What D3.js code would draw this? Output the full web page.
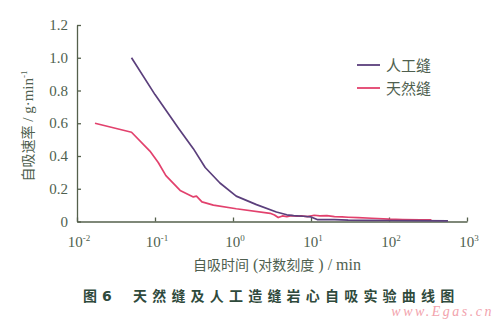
<!DOCTYPE html>
<html>
<head>
<meta charset="utf-8">
<script src="https://cdn.jsdelivr.net/npm/d3@7/dist/d3.min.js"></script>
<style>
  html, body { margin: 0; padding: 0; background: #fff; }
  svg { display: block; }
</style>
</head>
<body>
<svg id="chart" width="500" height="324"></svg>
<script>
// Imbibition rate (g/min) vs. imbibition time (min), log time axis
const artificialTime = [0.05, 0.10, 0.20, 0.31, 0.44, 0.68, 1.1, 2.0, 3.6, 4.9, 6.0, 8.0, 10, 12, 20, 30, 60, 100, 200, 570];
const artificialRate = [1.00, 0.775, 0.57, 0.445, 0.33, 0.235, 0.155, 0.103, 0.058, 0.041, 0.036, 0.032, 0.028, 0.012, 0.011, 0.008, 0.007, 0.006, 0.005, 0.004];

const naturalTime = [0.017, 0.05, 0.086, 0.11, 0.138, 0.21, 0.31, 0.34, 0.40, 0.56, 1.1, 3.0, 3.4, 3.8, 4.3, 4.9, 5.6, 6.5, 7.5, 9.0, 11, 13, 16, 20, 25, 30, 40, 60, 100, 150, 250, 350];
const naturalRate = [0.60, 0.545, 0.43, 0.36, 0.28, 0.19, 0.15, 0.155, 0.12, 0.10, 0.078, 0.050, 0.040, 0.024, 0.034, 0.030, 0.036, 0.032, 0.034, 0.030, 0.038, 0.034, 0.036, 0.030, 0.028, 0.026, 0.024, 0.020, 0.014, 0.012, 0.010, 0.010];

const seriesNames = ["人工缝", "天然缝"];
const seriesColors = ["#5b3f7c", "#e2416d"];

const xTickValues = [0.01, 0.1, 1, 10, 100, 1000];
const xTickExp = ["-2", "-1", "0", "1", "2", "3"];
const yTickValues = [0, 0.2, 0.4, 0.6, 0.8, 1.0, 1.2];

const svg = d3.select("#chart");
const axisColor = "#55604c";
const textColor = "#4f5f4f";
const serif = "'Liberation Serif', 'DejaVu Serif', serif";
const cjk = "'Noto Sans CJK SC', sans-serif";

const x = d3.scaleLog().domain([0.01, 1000]).range([77, 467]);
const y = d3.scaleLinear().domain([0, 1.2]).range([221.5, 25]);

// axes: left and bottom only, ticks pointing inward
const xAxis = svg.append("g")
  .attr("transform", `translate(0,${y(0)})`)
  .call(d3.axisBottom(x).tickValues(xTickValues).tickSize(-4).tickSizeOuter(0).tickFormat(""));
xAxis.select(".domain").attr("stroke", axisColor).attr("stroke-width", 1.3);
xAxis.selectAll(".tick line").attr("stroke", axisColor).attr("stroke-width", 1.3);

const yAxis = svg.append("g")
  .attr("transform", `translate(${x(0.01)},0)`)
  .call(d3.axisLeft(y).tickValues(yTickValues).tickSize(-4).tickSizeOuter(0).tickFormat(""));
yAxis.select(".domain").attr("stroke", axisColor).attr("stroke-width", 1.3);
yAxis.selectAll(".tick line").attr("stroke", axisColor).attr("stroke-width", 1.3);

// y tick labels
svg.append("g").selectAll("text").data(yTickValues).join("text")
  .attr("x", 68).attr("y", d => y(d) + 5)
  .attr("text-anchor", "end")
  .attr("font-family", serif).attr("font-size", 15).attr("fill", textColor)
  .text(d => d === 0 ? "0" : d.toFixed(1));

// x tick labels as powers of ten
const xl = svg.append("g").selectAll("text").data(xTickValues).join("text")
  .attr("x", d => x(d) + 2).attr("y", 247)
  .attr("text-anchor", "middle")
  .attr("font-family", serif).attr("font-size", 15).attr("fill", textColor);
xl.append("tspan").text("10");
xl.append("tspan").attr("dy", -6).attr("font-size", 9).text((d, i) => xTickExp[i]);

// axis titles
const xt = svg.append("text")
  .attr("x", 277).attr("y", 270).attr("text-anchor", "middle")
  .attr("font-size", 14).attr("fill", textColor);
xt.append("tspan").attr("font-family", cjk).text("自吸时间");
xt.append("tspan").attr("font-family", serif).attr("font-size", 16).text(" (");
xt.append("tspan").attr("font-family", cjk).text("对数刻度");
xt.append("tspan").attr("font-family", serif).attr("font-size", 16).text(" ) / min");

const yt = svg.append("text")
  .attr("transform", "translate(33,126) rotate(-90)")
  .attr("text-anchor", "middle")
  .attr("font-size", 14).attr("fill", textColor);
yt.append("tspan").attr("font-family", cjk).text("自吸速率");
yt.append("tspan").attr("font-family", serif).attr("font-size", 15).text(" / g·min");
yt.append("tspan").attr("font-family", serif).attr("dy", -6).attr("font-size", 9).text("-1");

// curves
const line = d3.line().x(d => x(d[0])).y(d => y(d[1]));
const seriesData = [
  d3.zip(artificialTime, artificialRate),
  d3.zip(naturalTime, naturalRate)
];
svg.append("g").selectAll("path").data([1, 0]).join("path")
  .attr("d", i => line(seriesData[i]))
  .attr("fill", "none")
  .attr("stroke", i => seriesColors[i])
  .attr("stroke-width", 1.7)
  .attr("stroke-linejoin", "round");

// legend
const lg = svg.append("g").selectAll("g").data(seriesNames).join("g")
  .attr("transform", (d, i) => `translate(357,${65 + i * 23})`);
lg.append("line").attr("x1", 0).attr("x2", 23).attr("y1", 0).attr("y2", 0)
  .attr("stroke", (d, i) => seriesColors[i]).attr("stroke-width", 1.8);
lg.append("text").attr("x", 29).attr("y", 5.5)
  .attr("font-family", cjk).attr("font-size", 15).attr("fill", textColor)
  .text(d => d);

// figure caption
const cap = svg.append("g").attr("fill", "#2f4a3c").attr("font-weight", "bold").attr("font-size", 14);
cap.append("text").attr("x", 83).attr("y", 301).attr("font-family", cjk).text("图");
cap.append("text").attr("x", 102).attr("y", 301).attr("font-family", "'DejaVu Sans', sans-serif").text("6");
cap.append("text")
  .attr("x", 133).attr("y", 301)
  .attr("font-family", cjk)
  .attr("letter-spacing", 5.2)
  .text("天然缝及人工造缝岩心自吸实验曲线图");

// site mark
svg.append("text")
  .attr("x", 494).attr("y", 316).attr("text-anchor", "end")
  .attr("font-family", serif).attr("font-size", 14).attr("font-style", "italic")
  .attr("letter-spacing", 2.5)
  .attr("fill", "#f2a3ad")
  .text("www.Egas.cn");
</script>
</body>
</html>
